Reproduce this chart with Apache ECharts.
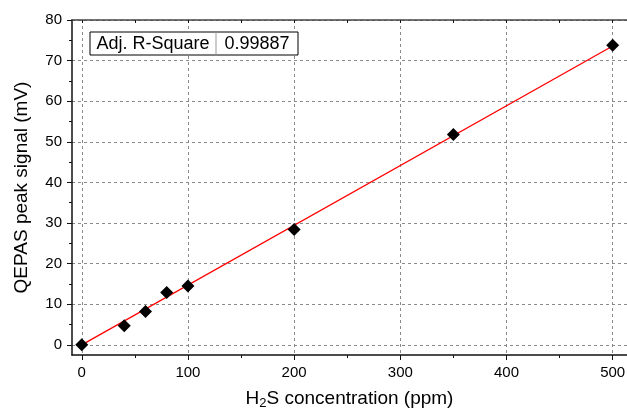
<!DOCTYPE html>
<html>
<head>
<meta charset="utf-8">
<script src="https://cdn.jsdelivr.net/npm/echarts@6/dist/echarts.min.js"></script>
<style>html,body{margin:0;padding:0;background:#fff}#c{width:627px;height:408px}</style>
</head>
<body>
<div id="c"></div>
<script>
// Data
const concentration = [0, 40, 60, 80, 100, 200, 350, 500];
const signal = [0, 4.7, 8.2, 12.9, 14.5, 28.4, 51.8, 73.8];
const fitX = [0, 500];
const fitY = [0, 73.6];
const xMajorTicks = [0, 100, 200, 300, 400, 500];
const xMinorTicks = [50, 150, 250, 350, 450];
const yMajorTicks = [0, 10, 20, 30, 40, 50, 60, 70, 80];
const yMinorTicks = [5, 15, 25, 35, 45, 55, 65, 75];
const statLabel = 'Adj. R-Square';
const statValue = '0.99887';

const FONT = '"Liberation Sans", Arial, sans-serif';
const XMIN = -9.2, XMAX = 513.5, YMIN = -2.5, YMAX = 80;

const chart = echarts.init(document.getElementById('c'));
const axisLineStyle = {color: '#111', width: 1.5};

chart.setOption({
  animation: false,
  backgroundColor: '#fff',
  grid: {left: 72, top: 20, right: 0, bottom: 53, containLabel: false, outerBoundsMode: 'none'},
  xAxis: [
    {
      type: 'value', min: XMIN, max: XMAX, position: 'bottom',
      name: '{a|H}{s|2}{a|S concentration (ppm)}',
      nameLocation: 'middle', nameGap: 33,
      nameTextStyle: {rich: {
        a: {fontFamily: FONT, fontSize: 19, color: '#000', lineHeight: 22},
        s: {fontFamily: FONT, fontSize: 13, color: '#000', verticalAlign: 'bottom', lineHeight: 13}
      }},
      axisLine: {show: true, onZero: false, lineStyle: axisLineStyle},
      axisTick: {show: true, inside: false, length: 5, customValues: xMajorTicks, lineStyle: {color: '#111', width: 1}},
      axisLabel: {customValues: xMajorTicks, fontFamily: FONT, fontSize: 15, color: '#000', margin: 10},
      splitLine: {show: true, lineStyle: {type: [3, 3], color: '#8a8a8a', width: 1}}
    },
    {
      type: 'value', min: XMIN, max: XMAX, position: 'bottom',
      axisLine: {show: false, onZero: false},
      axisTick: {show: true, inside: false, length: 3, customValues: xMinorTicks, lineStyle: {color: '#111', width: 1}},
      axisLabel: {show: false},
      splitLine: {show: false}
    },
    {
      type: 'value', min: XMIN, max: XMAX, position: 'top',
      axisLine: {show: true, onZero: false, lineStyle: {color: '#444', width: 1.5}},
      axisTick: {show: true, inside: true, length: 3, customValues: xMajorTicks.concat(xMinorTicks), lineStyle: {color: '#111', width: 1}},
      axisLabel: {show: false},
      splitLine: {show: false}
    }
  ],
  yAxis: [
    {
      type: 'value', min: YMIN, max: YMAX, position: 'left',
      name: 'QEPAS peak signal (mV)', nameLocation: 'middle', nameGap: 41,
      nameTextStyle: {fontFamily: FONT, fontSize: 19, color: '#000'},
      axisLine: {show: true, onZero: false, lineStyle: axisLineStyle},
      axisTick: {show: true, inside: false, length: 5, customValues: yMajorTicks, lineStyle: {color: '#111', width: 1}},
      axisLabel: {customValues: yMajorTicks, fontFamily: FONT, fontSize: 15, color: '#000', margin: 10},
      splitLine: {show: true, lineStyle: {type: [3, 3], color: '#8a8a8a', width: 1}}
    },
    {
      type: 'value', min: YMIN, max: YMAX, position: 'left',
      axisLine: {show: false, onZero: false},
      axisTick: {show: true, inside: false, length: 3, customValues: yMinorTicks, lineStyle: {color: '#111', width: 1}},
      axisLabel: {show: false},
      splitLine: {show: false}
    }
  ],
  series: [
    {
      type: 'line', xAxisIndex: 0, yAxisIndex: 0,
      data: fitX.map((x, i) => [x, fitY[i]]),
      showSymbol: false, symbol: 'none',
      lineStyle: {color: '#ff0000', width: 1.3},
      z: 2
    },
    {
      type: 'scatter', xAxisIndex: 0, yAxisIndex: 0,
      data: concentration.map((x, i) => [x, signal[i]]),
      symbol: 'diamond', symbolSize: 13,
      itemStyle: {color: '#000', opacity: 1},
      z: 3
    }
  ],
  graphic: [
    {type: 'rect', shape: {x: 90, y: 32, width: 208, height: 23}, style: {fill: '#fff', stroke: '#000', lineWidth: 1}, z: 10},
    {type: 'line', shape: {x1: 216, y1: 32, x2: 216, y2: 55}, style: {stroke: '#999', lineWidth: 1}, z: 11},
    {type: 'text', x: 153, y: 44, style: {text: statLabel, font: '18px ' + FONT, fill: '#000', align: 'center', verticalAlign: 'middle'}, z: 11},
    {type: 'text', x: 257, y: 44, style: {text: statValue, font: '18px ' + FONT, fill: '#000', align: 'center', verticalAlign: 'middle'}, z: 11}
  ]
});
</script>
</body>
</html>
